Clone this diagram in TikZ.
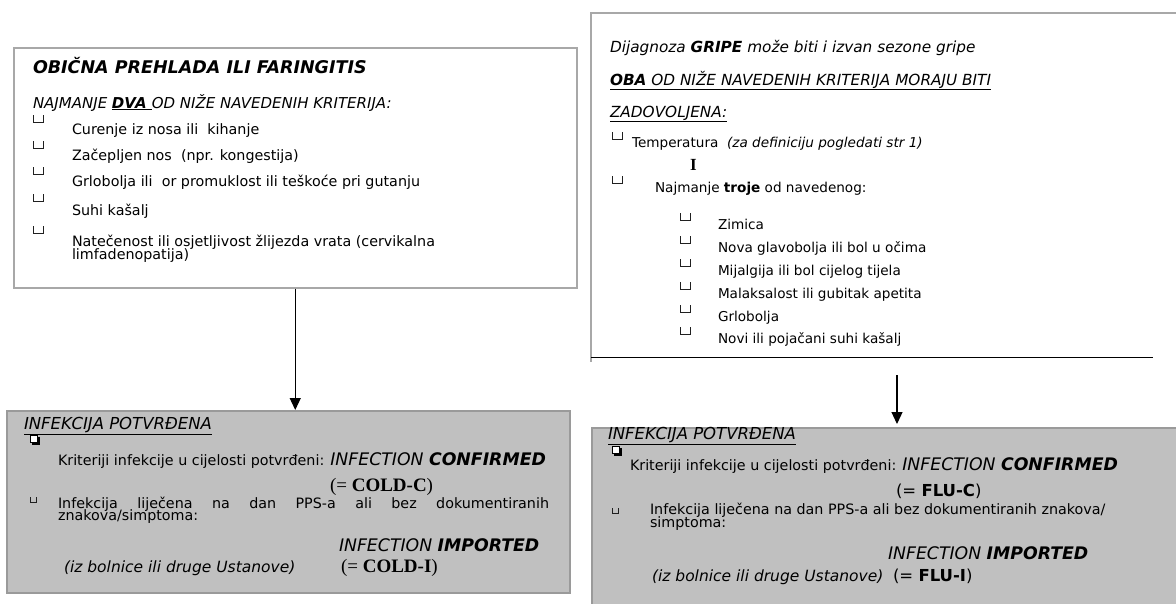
\documentclass[tikz,border=0pt]{standalone}
\usepackage{fontspec}
\setmainfont{DejaVu Sans}
\newfontfamily\serifbf{Liberation Serif}
\usetikzlibrary{arrows.meta}
\definecolor{boxline}{HTML}{A8A8A8}
\definecolor{grayfill}{HTML}{C0C0C0}
\definecolor{grayline}{HTML}{9A9A9A}
\definecolor{baseline}{HTML}{8C8C8C}
\definecolor{cupcol}{HTML}{202020}
\tikzset{
  cup/.pic={\draw[cupcol, line width=0.8pt] (0,0) -- (0,7) -- (10,7) -- (10,0);},
  smallcup/.pic={\draw[cupcol, line width=0.7pt] (0,0) -- (0,5) -- (6,5) -- (6,0);},
  shadowbox/.pic={\fill[black] (1.8,1.8) rectangle (9.5,9.5); \draw[line width=0.8pt, fill=white] (0,0) rectangle (7.7,7.7);},
}
\begin{document}
\begin{tikzpicture}[x=1pt,y=-1pt,
  t/.style={anchor=base west, inner sep=0pt, outer sep=0pt},
  body/.style={t, font=\fontsize{14.3}{16}\selectfont},
  bodyr/.style={t, font=\fontsize{13.6}{16}\selectfont},
  head/.style={t, font=\fontsize{15}{18}\selectfont\itshape},
  headr/.style={t, font=\fontsize{15.3}{18}\selectfont\itshape},
  infhead/.style={t, font=\fontsize{16.5}{19}\selectfont\itshape},
  big/.style={t, font=\fontsize{17.3}{20}\selectfont\itshape},
  paren/.style={t, font=\fontsize{15.5}{18}\selectfont\itshape},
  code/.style={t, font=\serifbf\fontsize{19}{22}\selectfont},
  codesans/.style={t, font=\fontsize{16.5}{19}\selectfont},
  arrow/.style={line width=1.2pt, -{Triangle[length=12pt,width=11pt]}},
  whitebox/.style={draw=boxline, line width=1.5pt, anchor=north west, inner sep=0pt},
  graybox/.style={draw=grayline, fill=grayfill, line width=1.5pt, anchor=north west, inner sep=0pt},
]
\useasboundingbox (0,0) rectangle (1176,603);
\fill[white] (0,0) rectangle (1176,603);

% ---------- boxes ----------
\node[whitebox, minimum width=563pt, minimum height=240pt] (ltop) at (13,47) {};
\node[graybox, minimum width=563pt, minimum height=182pt] (lgray) at (6,410) {};
\node[anchor=north west, inner sep=0pt, minimum width=600pt, minimum height=344pt] (rtop) at (591,13) {};
\draw[boxline, line width=1.5pt] (rtop.north east) -- (rtop.north west) -- ([yshift=-5pt]rtop.south west);
\draw[baseline, line width=1.3pt] (rtop.south west) -- ++(562,0);
\node[graybox, minimum width=600pt, minimum height=200pt] (rgray) at (591,427) {};

% ---------- arrows ----------
\draw[arrow] (ltop.south) -- (ltop.south |- lgray.north);
\coordinate (rstart) at (897,375);
\draw[arrow] (rstart) -- ([yshift=3pt]rstart |- rgray.north);

% ---------- left top box ----------
\node[t, font=\fontsize{17.5}{20}\selectfont\bfseries\itshape] (lt1) at (33,73) {OBIČNA PREHLADA ILI FARINGITIS};
\node[head] (lt2) at (33,108) {NAJMANJE \underline{\textbf{DVA }}OD NIŽE NAVEDENIH KRITERIJA:};
\pic at (33,115) {cup};
\pic at (33,141) {cup};
\pic at (33,167) {cup};
\pic at (33,194) {cup};
\pic at (33,226) {cup};
\node[body] (l1) at (72,134) {Curenje iz nosa ili\ \ kihanje};
\node[body] (l2) at (72,160) {Začepljen nos\ \ (npr. kongestija)};
\node[body] (l3) at (72,186) {Grlobolja ili\ \ or promuklost ili teškoće pri gutanju};
\node[body] (l4) at (72,215) {Suhi kašalj};
\node[body] (l5) at (72,246) {Natečenost ili osjetljivost žlijezda vrata (cervikalna};
\node[body] (l6) at (72,259) {limfadenopatija)};

% ---------- left gray box ----------
\node[infhead] (lg1) at (24,429) {\underline{INFEKCIJA POTVRĐENA}};
\pic at (30,435) {shadowbox};
\node[body] (lg2) at (58,465) {Kriteriji infekcije u cijelosti potvrđeni: {\fontsize{17.3}{20}\selectfont\itshape INFECTION \textbf{CONFIRMED}}};
\node[code] (lg3) at (330,491) {(= \textbf{COLD-C})};
\pic at (30,497) {smallcup};
\node[body] (lg4) at (58,508) {\makebox[491pt][s]{Infekcija liječena na dan PPS-a ali bez dokumentiranih}};
\node[body] (lg5) at (58,520) {znakova/simptoma:};
\node[big] (lg6) at (339,551) {INFECTION \textbf{IMPORTED}};
\node[paren] (lg7) at (64,572) {(iz bolnice ili druge Ustanove)};
\node[code] (lg8) at (341,572) {(= \textbf{COLD-I})};

% ---------- right top box ----------
\node[headr] (r1) at (610,52) {Dijagnoza \textbf{GRIPE} može biti i izvan sezone gripe};
\node[headr] (r2) at (610,85) {\underline{\textbf{OBA} OD NIŽE NAVEDENIH KRITERIJA MORAJU BITI}};
\node[headr] (r3) at (610,117) {\underline{ZADOVOLJENA:}};
\pic at (612,132) {cup};
\node[bodyr] (r4) at (632,147) {Temperatura\ \ \textit{(za definiciju pogledati str 1)}};
\node[t, font=\serifbf\bfseries\fontsize{17}{20}\selectfont] (r5) at (690,170) {I};
\pic at (612,176) {cup};
\node[bodyr] (r6) at (655,192) {Najmanje \textbf{troje} od navedenog:};
\pic at (680,213) {cup};
\pic at (680,236) {cup};
\pic at (680,259) {cup};
\pic at (680,282) {cup};
\pic at (680,305) {cup};
\pic at (680,327) {cup};
\node[bodyr] (s1) at (718,229) {Zimica};
\node[bodyr] (s2) at (718,252) {Nova glavobolja ili bol u očima};
\node[bodyr] (s3) at (718,275) {Mijalgija ili bol cijelog tijela};
\node[bodyr] (s4) at (718,298) {Malaksalost ili gubitak apetita};
\node[bodyr] (s5) at (718,321) {Grlobolja};
\node[bodyr] (s6) at (718,343) {Novi ili pojačani suhi kašalj};

% ---------- right gray box ----------
\node[infhead] (rg1) at (608,439) {\underline{INFEKCIJA POTVRĐENA}};
\pic at (612,446) {shadowbox};
\node[body] (rg2) at (630,470) {Kriteriji infekcije u cijelosti potvrđeni: {\fontsize{17.3}{20}\selectfont\itshape INFECTION \textbf{CONFIRMED}}};
\node[codesans] (rg3) at (896,496) {(= \textbf{FLU-C})};
\pic at (612,508) {smallcup};
\node[body] (rg4) at (650,514) {Infekcija liječena na dan PPS-a ali bez dokumentiranih znakova/};
\node[body] (rg5) at (650,527) {simptoma:};
\node[big] (rg6) at (888,559) {INFECTION \textbf{IMPORTED}};
\node[paren] (rg7) at (652,581) {(iz bolnice ili druge Ustanove)};
\node[codesans] (rg8) at (893,581) {(= \textbf{FLU-I})};
\end{tikzpicture}
\end{document}
